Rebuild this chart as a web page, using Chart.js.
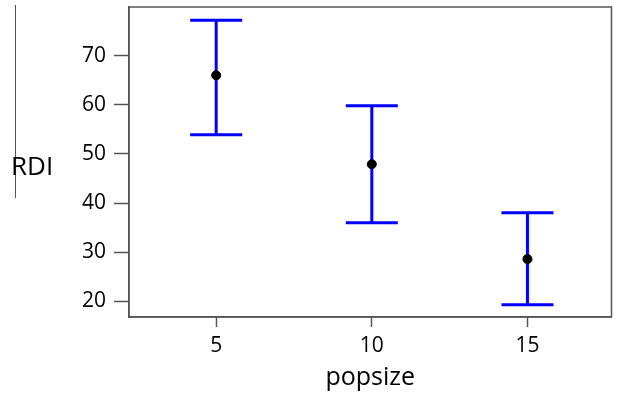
<!DOCTYPE html>
<html>
<head>
<meta charset="UTF-8" />
<title>RDI vs popsize</title>
<script src="https://cdn.jsdelivr.net/npm/chart.js"></script>
<style>
  html, body { margin: 0; padding: 0; background: #fff; }
  #wrap { width: 617px; height: 397px; }
</style>
</head>
<body>
<div id="wrap"><canvas id="grafico" width="617" height="397"></canvas></div>
<script>
// datos
const popsize = [5, 10, 15];
const media = [66.0, 47.9, 28.6];
const superior = [77.2, 59.8, 38.0];
const inferior = [53.9, 36.0, 19.3];
const ticksY = [20, 30, 40, 50, 60, 70];
const ticksX = [5, 10, 15];

const fuente = "'Open Sans', 'DejaVu Sans', sans-serif";

// barras de error, caja del area y etiqueta RDI
const extras = {
  id: 'extras',
  beforeDatasetsDraw(chart) {
    const ctx = chart.ctx;
    const sx = chart.scales.x, sy = chart.scales.y;
    ctx.save();
    ctx.strokeStyle = '#0000ff';
    ctx.lineWidth = 3;
    ctx.lineCap = 'butt';
    popsize.forEach((p, i) => {
      const x = sx.getPixelForValue(p);
      const yh = sy.getPixelForValue(superior[i]);
      const yl = sy.getPixelForValue(inferior[i]);
      ctx.beginPath();
      ctx.moveTo(x, yh); ctx.lineTo(x, yl);
      ctx.moveTo(x - 26, yh); ctx.lineTo(x + 26, yh);
      ctx.moveTo(x - 26, yl); ctx.lineTo(x + 26, yl);
      ctx.stroke();
    });
    ctx.restore();
  },
  afterDraw(chart) {
    const ctx = chart.ctx;
    const a = chart.chartArea;
    ctx.save();
    ctx.strokeStyle = '#555';
    ctx.lineWidth = 1.5;
    ctx.strokeRect(a.left, a.top, a.right - a.left, a.bottom - a.top);
    ctx.lineWidth = 1;
    ctx.beginPath();
    ctx.moveTo(15.5, 5); ctx.lineTo(15.5, 198);
    ctx.stroke();
    ctx.fillStyle = '#000';
    ctx.font = '26px ' + fuente;
    ctx.textAlign = 'left';
    ctx.textBaseline = 'middle';
    ctx.fillText('RDI', 11, 168);
    ctx.restore();
  }
};

new Chart(document.getElementById('grafico'), {
  type: 'scatter',
  data: {
    datasets: [{
      data: popsize.map((p, i) => ({ x: p, y: media[i] })),
      backgroundColor: '#000',
      borderColor: '#000',
      pointRadius: 4.5,
      pointHoverRadius: 4.5
    }]
  },
  options: {
    responsive: false,
    animation: false,
    layout: { padding: { left: 0, right: 4, top: 7, bottom: 0 } },
    plugins: { legend: { display: false }, tooltip: { enabled: false } },
    scales: {
      x: {
        type: 'linear',
        min: 2.2,
        max: 17.7,
        afterBuildTicks: s => { s.ticks = ticksX.map(v => ({ value: v })); },
        afterFit: s => { s.height = 80; s.paddingLeft = 0; s.paddingRight = 0; },
        grid: { display: true, drawOnChartArea: false, tickLength: 10, tickColor: '#555', tickWidth: 1.5 },
        border: { display: true, color: '#555', width: 1.5 },
        ticks: { color: '#000', font: { family: fuente, size: 21 }, padding: 6 },
        title: { display: true, text: 'popsize', color: '#000', font: { family: fuente, size: 25 }, padding: { top: 0 } }
      },
      y: {
        min: 16.8,
        max: 79.9,
        afterBuildTicks: s => { s.ticks = ticksY.map(v => ({ value: v })); },
        afterFit: s => { s.width = 129; s.paddingTop = 0; s.paddingBottom = 0; },
        grid: { display: true, drawOnChartArea: false, tickLength: 15, tickColor: '#555', tickWidth: 1.5 },
        border: { display: true, color: '#555', width: 1.5 },
        ticks: { color: '#000', font: { family: fuente, size: 21 }, padding: 8 }
      }
    }
  },
  plugins: [extras]
});
</script>
</body>
</html>
